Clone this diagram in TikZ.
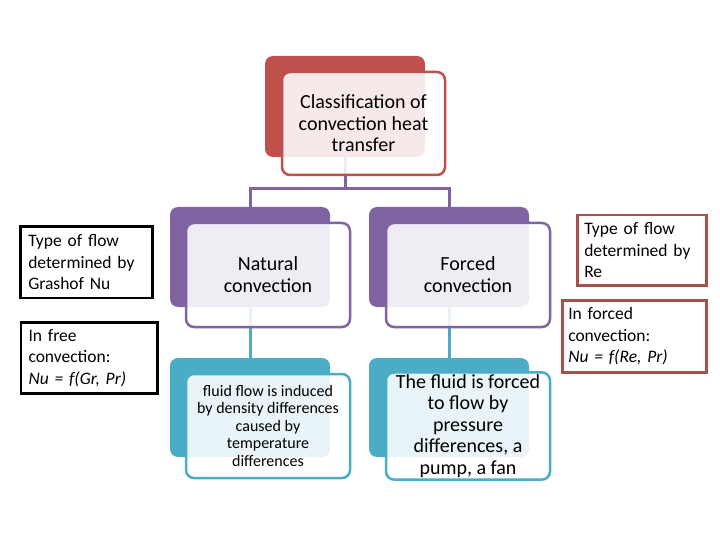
\documentclass[tikz,border=0pt]{standalone}
\usepackage{fontspec}
\setmainfont{Carlito}
\usetikzlibrary{positioning}
\definecolor{topred}{HTML}{C0504D}
\definecolor{midpurple}{HTML}{8064A2}
\definecolor{lowteal}{HTML}{4BACC6}
\definecolor{notebrown}{HTML}{A5524F}
\tikzstyle{backbox}  = [rectangle, rounded corners=8pt, minimum width=160pt,
                        minimum height=100pt, inner sep=0pt]
\tikzstyle{frontbox} = [rectangle, rounded corners=8pt, minimum width=164pt,
                        minimum height=104pt, line width=2.5pt, fill=white,
                        fill opacity=0.88, text opacity=1, align=center, inner sep=2pt]
\tikzstyle{notebox}  = [rectangle, line width=2.5pt, align=left, anchor=north west,
                        inner ysep=0pt, font=\fontsize{17.5}{21.5}\selectfont]
\tikzstyle{link}     = [line width=3pt]

\begin{document}
\begin{tikzpicture}[x=1pt, y=-1pt]
  \useasboundingbox (0,0) rectangle (720,540);

  %% back boxes
  \node[backbox, fill=topred, minimum height=101pt] (topback) at (345,106.5) {};
  \node[backbox, fill=midpurple] (natback) at (250,257) {};
  \node[backbox, fill=midpurple] (forback) at (449,257) {};
  \node[backbox, fill=lowteal, minimum height=99pt] (natlow) at (250,407.5) {};
  \node[backbox, fill=lowteal, minimum height=99pt] (forlow) at (449,407.5) {};

  %% connectors
  \coordinate (split) at (345,189);
  \draw[link, midpurple] (topback.south) -- (split);
  \draw[link, midpurple] (natback.north) |- (split) -| (forback.north);
  \draw[link, lowteal] (natback.south) -- (natlow.north);
  \draw[link, lowteal] (forback.south) -- (forlow.north);

  %% front boxes
  \node[frontbox, draw=topred, minimum width=163pt, minimum height=103pt,
        font=\fontsize{20}{21.5}\selectfont] (topfront) at (363.5,123.5)
        {Classification of\\convection heat\\transfer};
  \node[frontbox, draw=midpurple, font=\fontsize{20}{22}\selectfont]
        (natfront) at (268,275) {Natural\\convection};
  \node[frontbox, draw=midpurple, font=\fontsize{20}{22}\selectfont]
        (forfront) at (468,275) {Forced\\convection};
  \node[frontbox, draw=lowteal, font=\fontsize{16}{17.5}\selectfont]
        (natdesc) at (268,426)
        {fluid flow is induced\\by density differences\\caused by\\temperature\\differences};
  \node[frontbox, draw=lowteal, font=\fontsize{20}{21.5}\selectfont]
        (fordesc) at (468,426)
        {The fluid is forced\\to flow by\\pressure\\differences, a\\pump, a fan};

  %% side notes
  \node[notebox, draw=black, inner xsep=8pt, text width=116pt,
        minimum width=132pt, minimum height=71pt] (grashof) at (19,225.5)
        {Type of flow\\determined by\\Grashof Nu};
  \node[notebox, draw=black, inner xsep=7.5pt, text width=121pt,
        minimum width=136.5pt, minimum height=71pt] (freenu) at (19.5,321)
        {In free\\convection:\\\textit{Nu = f(Gr, Pr)}};
  \node[notebox, draw=notebrown, inner xsep=7pt, text width=115pt,
        minimum width=129pt, minimum height=70pt] (reynolds) at (576,214)
        {Type of flow\\determined by\\Re};
  \node[notebox, draw=notebrown, inner xsep=6pt, text width=132pt,
        minimum width=144pt, minimum height=72pt] (forcednu) at (561,299)
        {In forced\\convection:\\\textit{Nu = f(Re, Pr)}};
\end{tikzpicture}
\end{document}
